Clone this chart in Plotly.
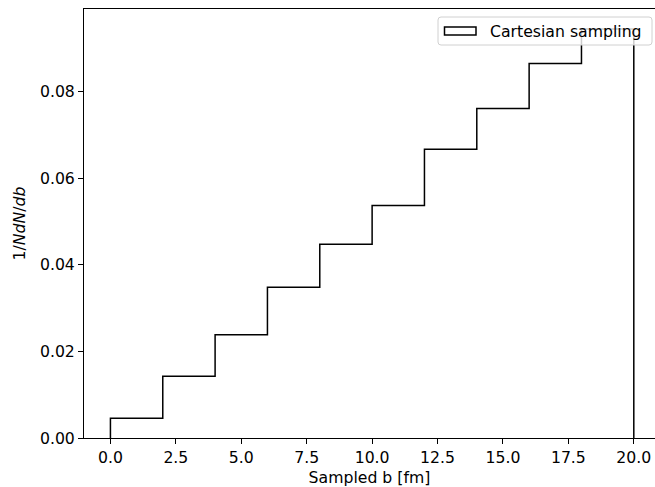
import plotly.graph_objects as go

bin_edges = [0, 2, 4, 6, 8, 10, 12, 14, 16, 18, 20]
density = [0.00458, 0.01429, 0.02386, 0.0348, 0.04474, 0.0537, 0.0667, 0.0761, 0.0865, 0.0945]
series_name = "Cartesian sampling"
x_ticks = [0, 2.5, 5, 7.5, 10, 12.5, 15, 17.5, 20]
y_ticks = [0, 0.02, 0.04, 0.06, 0.08]

# step outline (matplotlib histtype='step')
xs = [bin_edges[0]] + bin_edges[:-1] + [bin_edges[-1], bin_edges[-1]]
ys = [0] + density + [density[-1], 0]

W, H = 655, 487
ml, mr, mt, mb = 84, 0, 9, 49

fig = go.Figure()
fig.add_trace(go.Scatter(x=xs, y=ys, mode="lines", line=dict(color="black", width=1.5, shape="hv"),
                         showlegend=False, hoverinfo="skip"))

font = dict(family="DejaVu Sans", size=15.7, color="black")
fig.update_layout(
    width=W, height=H, margin=dict(l=ml, r=mr, t=mt, b=mb, autoexpand=False),
    paper_bgcolor="white", plot_bgcolor="white", font=font, showlegend=False,
    xaxis=dict(range=[-1.01, 20.81], tickvals=x_ticks, tickformat=".1f", ticks="outside",
               ticklen=5, tickwidth=1, tickcolor="black", showgrid=False, zeroline=False,
               showline=True, linecolor="black", linewidth=1, mirror=True, automargin=False,
               title=dict(text="Sampled b [fm]", font=font, standoff=8)),
    yaxis=dict(range=[0, 0.0991], tickvals=y_ticks, tickformat=".2f", ticks="outside",
               ticklen=5, tickwidth=1, tickcolor="black", showgrid=False, zeroline=False,
               showline=True, linecolor="black", linewidth=1, automargin=False,
               title=dict(text="1/<i>NdN</i>/<i>db</i>", font=font, standoff=10)),
)

# legend box (matplotlib style, semi-transparent, rounded)
PW, PH = W - ml - mr, H - mt - mb

def px2paper_x(px):
    return (px - ml) / PW

def px2paper_y(py):
    return 1 - (py - mt) / PH

x0, x1, y0, y1 = px2paper_x(438), px2paper_x(652), px2paper_y(45), px2paper_y(17)
rx, ry = 3 / PW, 3 / PH
path = (f"M {x0+rx},{y0} L {x1-rx},{y0} Q {x1},{y0} {x1},{y0+ry} L {x1},{y1-ry} "
        f"Q {x1},{y1} {x1-rx},{y1} L {x0+rx},{y1} Q {x0},{y1} {x0},{y1-ry} L {x0},{y0+ry} "
        f"Q {x0},{y0} {x0+rx},{y0} Z")
fig.add_shape(type="path", xref="paper", yref="paper", path=path,
              fillcolor="rgba(255,255,255,0.8)", line=dict(color="#d0d0d0", width=1), layer="above")
fig.add_shape(type="rect", xref="paper", yref="paper",
              x0=px2paper_x(444.5), x1=px2paper_x(476), y0=px2paper_y(35), y1=px2paper_y(27),
              fillcolor="rgba(0,0,0,0)", line=dict(color="black", width=1.5), layer="above")
fig.add_annotation(xref="paper", yref="paper", x=px2paper_x(488), y=px2paper_y(31),
                   text=series_name, showarrow=False, xanchor="left", yanchor="middle", font=font)

fig.write_html("out.html", config={"displayModeBar": False},
               post_script="document.body.style.margin='0';document.body.style.overflow='hidden';")
